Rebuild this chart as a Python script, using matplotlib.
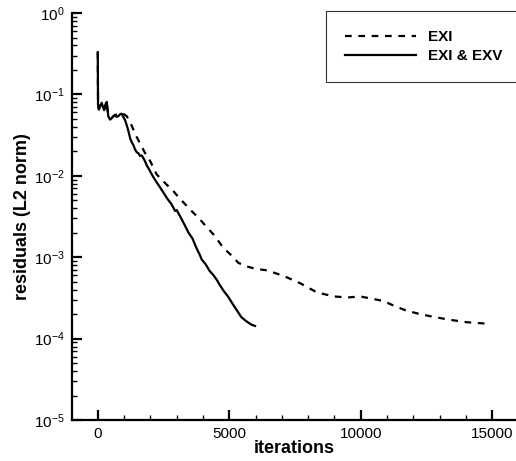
import matplotlib
matplotlib.use("Agg")
import matplotlib.pyplot as plt
from matplotlib.ticker import LogLocator, MultipleLocator

plt.rcParams["font.family"] = ["Liberation Sans", "DejaVu Sans"]
plt.rcParams["mathtext.fontset"] = "custom"
plt.rcParams["mathtext.rm"] = "Liberation Sans"
plt.rcParams["mathtext.default"] = "regular"

# EXI (dashed)
exi_iter = [0, 10, 30, 80, 150, 200, 260, 340, 400, 530, 660, 780, 850, 910,
            1000, 1100, 1230, 1353, 1480, 1608, 1800, 1860, 2000, 2240, 2600,
            2874, 3000, 3260, 3600, 3764, 3890, 4020, 4400, 4780, 5100, 5350,
            5730, 6000, 6430, 7060, 7690, 8330, 8960, 9500, 9970, 10400,
            10860, 11300, 11750, 12250, 12760, 13400, 14030, 14500, 14920]
exi_res = [0.33, 0.09, 0.068, 0.072, 0.079, 0.077, 0.066, 0.08, 0.055, 0.052,
           0.056, 0.057, 0.059, 0.059, 0.057, 0.054, 0.046, 0.037, 0.030,
           0.025, 0.019, 0.018, 0.015, 0.0104, 0.0079, 0.0065, 0.0058, 0.0047,
           0.0036, 0.0032, 0.0029, 0.0026, 0.0019, 0.0013, 0.00104, 0.00085,
           0.00076, 0.00072, 0.00069, 0.00059, 0.00048, 0.00037, 0.00033,
           0.00032, 0.00033, 0.00031, 0.00029, 0.00025, 0.00022, 0.000200,
           0.000185, 0.000170, 0.000159, 0.000155, 0.000152]

# EXI & EXV (solid)
exv_iter = [0, 10, 40, 100, 150, 200, 240, 290, 340, 400, 470, 530, 600, 660,
            720, 780, 850, 910, 970, 1040, 1100, 1160, 1230, 1290, 1350, 1420,
            1480, 1540, 1610, 1670, 1730, 1800, 1860, 1920, 2000, 2100, 2200,
            2370, 2500, 2650, 2800, 2940, 3000, 3150, 3300, 3450, 3600, 3750,
            3890, 3950, 4100, 4250, 4400, 4520, 4650, 4800, 4950, 5150, 5300,
            5450, 5600, 5750, 5850, 5980]
exv_res = [0.33, 0.075, 0.065, 0.072, 0.079, 0.07, 0.064, 0.075, 0.081, 0.054,
           0.049, 0.051, 0.054, 0.056, 0.053, 0.054, 0.057, 0.058, 0.053, 0.048,
           0.042, 0.036, 0.029, 0.026, 0.024, 0.021, 0.0195, 0.019, 0.0175,
           0.0178, 0.0166, 0.015, 0.0135, 0.0125, 0.0112, 0.0098, 0.0087,
           0.0072, 0.0062, 0.0052, 0.0045, 0.0037, 0.0038, 0.0031, 0.0025,
           0.0020, 0.0017, 0.0013, 0.00105, 0.00094, 0.00082, 0.00068,
           0.00060, 0.00053, 0.00045, 0.00038, 0.00033, 0.00026, 0.00022,
           0.000185, 0.000168, 0.000155, 0.000148, 0.000143]

fig = plt.figure(figsize=(5.16, 4.61), dpi=100)
ax = fig.add_axes([0.1395, 0.0889, 0.8605, 0.8829])

ax.plot(exi_iter, exi_res, color="black", lw=1.6, ls=(0, (3, 3)), label="EXI")
ax.plot(exv_iter, exv_res, color="black", lw=1.6, ls="-", label="EXI & EXV")

ax.set_yscale("log")
ax.set_ylim(1e-5, 1)
ax.set_xlim(-980, 15900)
ax.xaxis.set_major_locator(MultipleLocator(5000))
ax.xaxis.set_minor_locator(MultipleLocator(1000))
ax.yaxis.set_major_locator(LogLocator(base=10, numticks=10))
ax.yaxis.set_minor_locator(LogLocator(base=10, subs=range(2, 10), numticks=20))

for side in ("top", "right"):
    ax.spines[side].set_visible(False)
for side in ("left", "bottom"):
    ax.spines[side].set_linewidth(1.6)

ax.tick_params(which="major", direction="in", length=7, width=1.6,
               labelsize=11, pad=5)
ax.tick_params(which="minor", direction="in", length=3.5, width=1)

ax.set_xlabel("iterations", fontsize=13, fontweight="bold", labelpad=-1)
ax.set_ylabel("residuals (L2 norm)", fontsize=13, fontweight="bold", labelpad=2)

leg = ax.legend(loc="upper left", bbox_to_anchor=(326 / 516, 1 - 11 / 461),
                bbox_transform=fig.transFigure, frameon=True, fancybox=False,
                prop={"weight": "bold", "size": 11}, handlelength=4.65,
                handletextpad=0.8, labelspacing=0.33, borderpad=1.25,
                borderaxespad=0)
leg.get_frame().set_edgecolor("black")
leg.get_frame().set_linewidth(0.8)

fig.savefig("out.png", dpi=100)
